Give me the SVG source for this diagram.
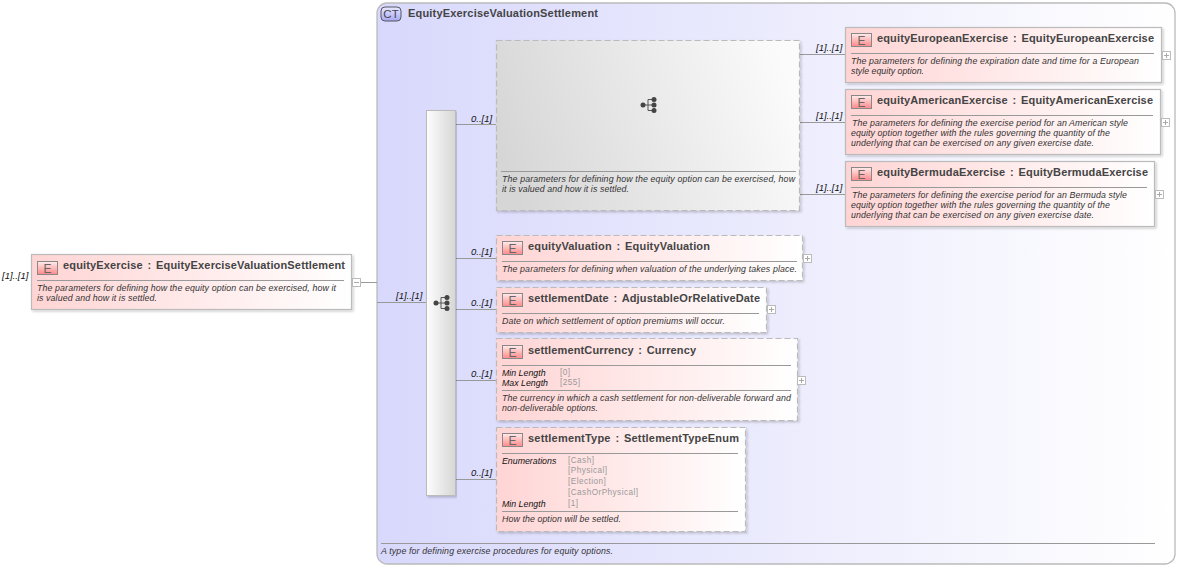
<svg xmlns="http://www.w3.org/2000/svg" width="1178" height="566" viewBox="0 0 1178 566">
<style>
text{font-family:"Liberation Sans",Arial,sans-serif}
.t{font-size:11px;font-weight:bold;fill:#444;word-spacing:1.5px}
.d{font-size:8.8px;font-style:italic;fill:#333}
.k{font-size:8.8px;font-style:italic;fill:#111}
.v{font-size:8.2px;fill:#999;letter-spacing:.45px}
.c{font-size:9.5px;font-style:italic;fill:#111}
.n{fill:url(#ng);stroke:#bbb;stroke-width:1.2;filter:url(#sh)}
.o{stroke-dasharray:6 3}
.sep{stroke:#999;stroke-width:1}
.l{stroke:#999;stroke-width:1;fill:none}
.e{fill:url(#eg);stroke:#888;stroke-width:1}
.et{font-size:12px;fill:#666;text-anchor:middle}
.b{fill:#fff;stroke:#bbb;stroke-width:1}
.p{stroke:#aaa;stroke-width:1;fill:none}
</style>
<defs>
<linearGradient id="ng" x1="0" y1="0" x2="1" y2="0"><stop offset="0" stop-color="#ffd4d4"/><stop offset="1" stop-color="#fff"/></linearGradient>
<linearGradient id="eg" x1="0" y1="0" x2="0" y2="1"><stop offset="0" stop-color="#ffecec"/><stop offset="1" stop-color="#f88"/></linearGradient>
<linearGradient id="ctg" x1="0" y1="0" x2="1" y2="0"><stop offset="0" stop-color="#d8d8fc"/><stop offset="1" stop-color="#fff"/></linearGradient>
<linearGradient id="ctb" x1="0" y1="0" x2="0" y2="1"><stop offset="0" stop-color="#e8e8ff"/><stop offset="1" stop-color="#a8a8f0"/></linearGradient>
<linearGradient id="gg" x1="0" y1="0.6" x2="1" y2="0.4"><stop offset="0" stop-color="#d6d6d6"/><stop offset="1" stop-color="#fbfbfb"/></linearGradient>
<linearGradient id="sg" x1="0" y1="0" x2="1" y2="0"><stop offset="0" stop-color="#fdfdfd"/><stop offset="1" stop-color="#d6d6d6"/></linearGradient>
<filter id="sh" x="-5%" y="-5%" width="110%" height="115%"><feDropShadow dx="1.5" dy="1.5" stdDeviation="1" flood-color="#000" flood-opacity="0.2"/></filter>
<g id="seq">
<path d="M3 8H8M8 2.500V13.500M8 2.500H14M8 8H14M8 13.500H14" stroke="#555" stroke-width="1" fill="none"/>
<circle cx="3" cy="8" r="2.500" fill="#444"/><circle cx="14" cy="2.500" r="2.500" fill="#444"/><circle cx="14" cy="8" r="2.500" fill="#444"/><circle cx="14" cy="13.500" r="2.500" fill="#444"/>
</g>
</defs>

<text class="c" x="2" y="279">[1]..[1]</text>
<g id="ct">
<rect x="377" y="3" width="798" height="561" rx="10" fill="url(#ctg)" stroke="#bbb" stroke-width="1.3"/>
<rect x="381" y="7" width="20" height="14" rx="4" fill="url(#ctb)" stroke="#556" stroke-width="1"/>
<text x="391" y="18" font-size="11.500" fill="#445" text-anchor="middle">CT</text>
<text class="t" x="408" y="17" textLength="190">EquityExerciseValuationSettlement</text>
<line class="sep" x1="381" y1="543.500" x2="1155" y2="543.500"/>
<text class="d" x="381" y="554" textLength="232">A type for defining exercise procedures for equity options.</text>
</g>

<g id="connectors">
<path class="l" d="M361 282.500H377M377 302.500H426"/>
<path class="l" d="M456 124.500H496M456 258.500H496M456 309.500H496M456 380.500H496M456 479.500H496"/>
<path class="l" d="M800 54.500H845M800 122.500H845M800 194.500H845"/>
<text class="c" x="396" y="299">[1]..[1]</text>
<text class="c" x="471" y="122">0..[1]</text>
<text class="c" x="471" y="255">0..[1]</text>
<text class="c" x="471" y="306">0..[1]</text>
<text class="c" x="471" y="377">0..[1]</text>
<text class="c" x="471" y="476">0..[1]</text>
<text class="c" x="816" y="51">[1]..[1]</text>
<text class="c" x="816" y="119">[1]..[1]</text>
<text class="c" x="816" y="191">[1]..[1]</text>
</g>

<g id="equityExercise">
<rect class="n" x="31.500" y="254.500" width="320" height="55"/>
<rect class="e" x="37.500" y="261.500" width="20" height="13"/><text class="et" x="47.500" y="272.500">E</text>
<text class="t" x="63" y="269" textLength="282">equityExercise : EquityExerciseValuationSettlement</text>
<line class="sep" x1="37" y1="280.500" x2="344" y2="280.500"/>
<text class="d" x="37" y="291" textLength="299">The parameters for defining how the equity option can be exercised, how it</text>
<text class="d" x="37" y="301" textLength="120">is valued and how it is settled.</text>
<rect class="b" x="352.500" y="278.500" width="8" height="8"/><path class="p" d="M354 282.500H359"/>
</g>

<g id="sequence-main">
<rect x="426.500" y="110.500" width="29" height="385" fill="url(#sg)" stroke="#bbb" filter="url(#sh)"/>
<use href="#seq" x="433" y="295"/>
</g>

<g id="sequence-choice">
<rect class="o" x="496.500" y="40.500" width="303" height="170" fill="url(#gg)" stroke="#bbb" stroke-width="1.2" filter="url(#sh)"/>
<use href="#seq" x="640" y="97"/>
<line class="sep" x1="501" y1="171.500" x2="796" y2="171.500"/>
<text class="d" x="502" y="182" textLength="293">The parameters for defining how the equity option can be exercised, how</text>
<text class="d" x="502" y="192" textLength="127">it is valued and how it is settled.</text>
</g>

<g id="equityEuropeanExercise">
<rect class="n" x="845.500" y="27.500" width="316" height="55"/>
<rect class="e" x="851.500" y="33.500" width="20" height="13"/><text class="et" x="861.500" y="44.500">E</text>
<text class="t" x="877" y="42" textLength="277">equityEuropeanExercise : EquityEuropeanExercise</text>
<line class="sep" x1="851" y1="53.500" x2="1154" y2="53.500"/>
<text class="d" x="851" y="64" textLength="288">The parameters for defining the expiration date and time for a European</text>
<text class="d" x="851" y="74" textLength="73">style equity option.</text>
<rect class="b" x="1162.500" y="51.500" width="8" height="8"/><path class="p" d="M1164 55.500H1169M1166.500 53V58"/>
</g>

<g id="equityAmericanExercise">
<rect class="n" x="845.500" y="89.500" width="315" height="65"/>
<rect class="e" x="851.500" y="95.500" width="20" height="13"/><text class="et" x="861.500" y="106.500">E</text>
<text class="t" x="877" y="104" textLength="276">equityAmericanExercise : EquityAmericanExercise</text>
<line class="sep" x1="851" y1="115.500" x2="1153" y2="115.500"/>
<text class="d" x="852" y="126" textLength="276">The parameters for defining the exercise period for an American style</text>
<text class="d" x="851" y="136" textLength="259">equity option together with the rules governing the quantity of the</text>
<text class="d" x="851" y="146" textLength="243">underlying that can be exercised on any given exercise date.</text>
<rect class="b" x="1161.500" y="118.500" width="8" height="8"/><path class="p" d="M1163 122.500H1168M1165.500 120V125"/>
</g>

<g id="equityBermudaExercise">
<rect class="n" x="845.500" y="161.500" width="309" height="65"/>
<rect class="e" x="851.500" y="167.500" width="20" height="13"/><text class="et" x="861.500" y="178.500">E</text>
<text class="t" x="877" y="176" textLength="271">equityBermudaExercise : EquityBermudaExercise</text>
<line class="sep" x1="851" y1="187.500" x2="1147" y2="187.500"/>
<text class="d" x="852" y="198" textLength="275">The parameters for defining the exercise period for an Bermuda style</text>
<text class="d" x="851" y="208" textLength="259">equity option together with the rules governing the quantity of the</text>
<text class="d" x="851" y="218" textLength="243">underlying that can be exercised on any given exercise date.</text>
<rect class="b" x="1155.500" y="190.500" width="8" height="8"/><path class="p" d="M1157 194.500H1162M1159.500 192V197"/>
</g>

<g id="equityValuation">
<rect class="n o" x="496.500" y="235.500" width="306" height="45"/>
<rect class="e" x="502.500" y="241.500" width="20" height="13"/><text class="et" x="512.500" y="252.500">E</text>
<text class="t" x="528" y="250" textLength="182">equityValuation : EquityValuation</text>
<line class="sep" x1="502" y1="261.500" x2="797" y2="261.500"/>
<text class="d" x="502" y="272" textLength="295">The parameters for defining when valuation of the underlying takes place.</text>
<rect class="b" x="803.500" y="254.500" width="8" height="8"/><path class="p" d="M805 258.500H810M807.500 256V261"/>
</g>

<g id="settlementDate">
<rect class="n o" x="496.500" y="287.500" width="270" height="45"/>
<rect class="e" x="502.500" y="293.500" width="20" height="13"/><text class="et" x="512.500" y="304.500">E</text>
<text class="t" x="528" y="302" textLength="232">settlementDate : AdjustableOrRelativeDate</text>
<line class="sep" x1="502" y1="313.500" x2="759" y2="313.500"/>
<text class="d" x="502" y="324" textLength="223">Date on which settlement of option premiums will occur.</text>
<rect class="b" x="767.500" y="305.500" width="8" height="8"/><path class="p" d="M769 309.500H774M771.500 307V312"/>
</g>

<g id="settlementCurrency">
<rect class="n o" x="496.500" y="338.500" width="301" height="82"/>
<rect class="e" x="502.500" y="345.500" width="20" height="13"/><text class="et" x="512.500" y="356.500">E</text>
<text class="t" x="528" y="354" textLength="168">settlementCurrency : Currency</text>
<line class="sep" x1="502" y1="365.500" x2="791" y2="365.500"/>
<text class="k" x="502" y="376">Min Length</text><text class="v" x="560" y="375">[0]</text>
<text class="k" x="502" y="386">Max Length</text><text class="v" x="560" y="385">[255]</text>
<line class="sep" x1="502" y1="390.500" x2="791" y2="390.500"/>
<text class="d" x="502" y="401" textLength="289">The currency in which a cash settlement for non-deliverable forward and</text>
<text class="d" x="502" y="411" textLength="96">non-deliverable options.</text>
<rect class="b" x="797.500" y="376.500" width="8" height="8"/><path class="p" d="M799 380.500H804M801.500 378V383"/>
</g>

<g id="settlementType">
<rect class="n o" x="496.500" y="427.500" width="249" height="104"/>
<rect class="e" x="502.500" y="433.500" width="20" height="13"/><text class="et" x="512.500" y="444.500">E</text>
<text class="t" x="528" y="442" textLength="211">settlementType : SettlementTypeEnum</text>
<line class="sep" x1="502" y1="453.500" x2="738" y2="453.500"/>
<text class="k" x="502" y="464">Enumerations</text>
<text class="v" x="568" y="463">[Cash]</text><text class="v" x="568" y="473">[Physical]</text><text class="v" x="568" y="484">[Election]</text><text class="v" x="568" y="495">[CashOrPhysical]</text>
<text class="k" x="502" y="507">Min Length</text><text class="v" x="568" y="506">[1]</text>
<line class="sep" x1="502" y1="511.500" x2="738" y2="511.500"/>
<text class="d" x="502" y="522" textLength="119">How the option will be settled.</text>
</g>
</svg>
